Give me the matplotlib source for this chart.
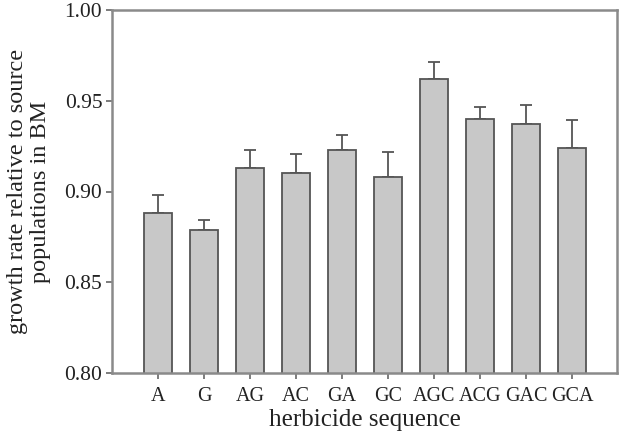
import matplotlib
matplotlib.use("Agg")
import matplotlib.pyplot as plt
import numpy as np

categories = ["A", "G", "AG", "AC", "GA", "GC", "AGC", "ACG", "GAC", "GCA"]
means = [0.888, 0.879, 0.913, 0.910, 0.923, 0.908, 0.962, 0.940, 0.937, 0.924]
errors = [0.010, 0.0055, 0.0097, 0.0108, 0.0079, 0.0138, 0.0094, 0.0066, 0.0108, 0.0155]
yticks = [0.80, 0.85, 0.90, 0.95, 1.00]

plt.rcParams['font.family'] = ['Liberation Serif', 'DejaVu Serif']

fig = plt.figure(figsize=(6.2, 4.34), dpi=100)
ax = fig.add_axes([112/620, 1-373/434, (617-112)/620, (373-10)/434])

x = np.arange(len(categories))
ax.bar(x, means, width=0.6, color='#c8c8c8', edgecolor='#555555', linewidth=1.3, zorder=2)
ax.errorbar(x, means, yerr=[np.zeros(len(errors)), errors], fmt='none',
            ecolor='#555555', elinewidth=1.3, capsize=4, capthick=1.3, zorder=1)

ax.set_ylim(0.80, 1.00)
ax.set_xlim(-1.0, 9.98)
ax.set_yticks(yticks)
ax.set_yticklabels([f"{t:.2f}" for t in yticks])
ax.set_xticks(x)
ax.set_xticklabels(categories)
for s in ax.spines.values():
    s.set_color('#8a8a8a')
    s.set_linewidth(1.8)
ax.tick_params(axis='both', colors='#666666', labelcolor='#222222', length=4, width=1.2)
ax.tick_params(axis='y', pad=3, labelsize=15.5)
ax.tick_params(axis='x', pad=6, labelsize=14.5)

ax.set_xlabel("herbicide sequence", fontsize=18, color='#222222', labelpad=2)
ax.set_ylabel("growth rate relative to source\npopulations in BM", fontsize=17.5,
              color='#222222', linespacing=1.1, labelpad=10)

fig.savefig("out.png", dpi=100)
